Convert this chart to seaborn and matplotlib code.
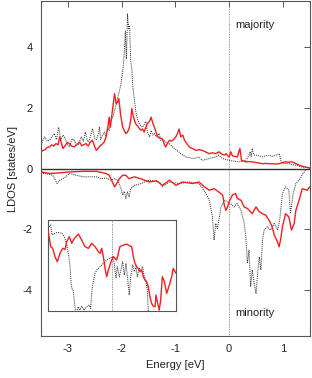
import numpy as np
import pandas as pd
import seaborn as sns
import matplotlib
matplotlib.use("Agg")
import matplotlib.pyplot as plt

# majority spin, dotted black curve
maj_black_E = [-3.50, -3.46, -3.43, -3.38, -3.34, -3.29, -3.25, -3.21, -3.17, -3.13,
               -3.09, -3.05, -3.01, -2.97, -2.92, -2.88, -2.84, -2.80, -2.75, -2.71,
               -2.67, -2.63, -2.60, -2.54, -2.50, -2.47, -2.43, -2.41, -2.39, -2.35,
               -2.32, -2.29, -2.26, -2.23, -2.20, -2.16, -2.13, -2.10, -2.07, -2.04,
               -2.01, -1.97, -1.95, -1.93, -1.91, -1.89, -1.87, -1.85, -1.83, -1.81,
               -1.79, -1.76, -1.73, -1.70, -1.67, -1.64, -1.61, -1.58, -1.55, -1.52,
               -1.48, -1.45, -1.42, -1.39, -1.36, -1.33, -1.30, -1.27, -1.22, -1.18,
               -1.11, -1.05, -0.99, -0.93, -0.87, -0.80, -0.74, -0.68, -0.62, -0.56,
               -0.50, -0.44, -0.37, -0.31, -0.25, -0.19, -0.12, -0.06, 0.00, 0.06,
               0.12, 0.19, 0.25, 0.31, 0.34, 0.37, 0.39, 0.41, 0.43, 0.46,
               0.50, 0.56, 0.62, 0.68, 0.74, 0.80, 0.87, 0.93, 0.96, 0.99,
               1.05, 1.11, 1.17, 1.24, 1.30, 1.36, 1.42, 1.48, 1.50]
maj_black = [0.71, 0.95, 1.04, 0.90, 0.93, 1.05, 1.15, 0.95, 1.36, 0.93,
             1.10, 1.00, 0.80, 0.71, 0.98, 0.93, 0.78, 0.80, 1.04, 0.90,
             1.20, 0.88, 0.93, 1.31, 1.00, 0.95, 1.15, 1.36, 0.96, 1.10,
             1.20, 1.05, 1.36, 1.25, 1.58, 1.70, 1.91, 2.10, 2.35, 2.55,
             2.79, 3.33, 3.80, 4.50, 3.60, 5.08, 4.60, 4.70, 3.50, 3.30,
             2.68, 2.24, 1.80, 1.60, 1.48, 1.40, 1.36, 1.45, 1.55, 1.20,
             1.04, 1.25, 1.10, 1.15, 1.05, 1.10, 1.15, 0.93, 0.95, 0.87,
             0.82, 0.71, 0.62, 0.54, 0.45, 0.38, 0.36, 0.33, 0.35, 0.38,
             0.27, 0.30, 0.33, 0.36, 0.38, 0.44, 0.33, 0.30, 0.27, 0.25,
             0.24, 0.22, 0.24, 0.27, 0.35, 0.44, 0.55, 0.40, 0.66, 0.45,
             0.44, 0.42, 0.38, 0.42, 0.44, 0.40, 0.44, 0.49, 0.27, 0.16,
             0.17, 0.16, 0.13, 0.11, 0.08, 0.05, 0.04, 0.03, 0.02]

# majority spin, red curve
maj_red_E = [-3.50, -3.46, -3.42, -3.38, -3.34, -3.30, -3.26, -3.22, -3.18, -3.15,
             -3.12, -3.09, -3.05, -3.01, -2.97, -2.93, -2.88, -2.83, -2.78, -2.74,
             -2.70, -2.66, -2.62, -2.58, -2.54, -2.50, -2.47, -2.43, -2.39, -2.35,
             -2.32, -2.29, -2.26, -2.23, -2.21, -2.17, -2.13, -2.10, -2.07, -2.05,
             -2.02, -1.98, -1.95, -1.92, -1.89, -1.86, -1.83, -1.81, -1.78, -1.76,
             -1.73, -1.70, -1.67, -1.64, -1.61, -1.58, -1.55, -1.52, -1.48, -1.45,
             -1.42, -1.39, -1.36, -1.33, -1.29, -1.24, -1.21, -1.18, -1.14, -1.11,
             -1.07, -1.02, -0.99, -0.96, -0.93, -0.90, -0.86, -0.83, -0.78, -0.74,
             -0.68, -0.62, -0.56, -0.50, -0.44, -0.37, -0.31, -0.25, -0.19, -0.14,
             -0.09, -0.06, 0.00, 0.03, 0.06, 0.10, 0.15, 0.20, 0.23, 0.27,
             0.31, 0.37, 0.43, 0.50, 0.56, 0.62, 0.68, 0.74, 0.80, 0.87,
             0.93, 0.99, 1.05, 1.11, 1.17, 1.22, 1.27, 1.32, 1.36, 1.42, 1.48, 1.50]
maj_red = [0.55, 0.60, 0.62, 0.70, 0.71, 0.78, 0.74, 0.82, 0.78, 1.04,
           0.85, 0.66, 0.75, 0.86, 0.82, 0.74, 0.71, 0.80, 0.87, 0.75,
           0.79, 0.82, 0.74, 0.88, 0.93, 0.72, 0.60, 0.68, 0.76, 0.82,
           0.88, 1.04, 1.30, 1.69, 1.36, 1.90, 2.46, 2.13, 2.20, 2.30,
           1.80, 1.36, 1.25, 1.15, 1.20, 1.31, 1.60, 1.97, 1.70, 1.58,
           1.45, 1.40, 1.32, 1.26, 1.30, 1.20, 1.35, 1.48, 1.55, 1.69,
           1.50, 1.36, 1.20, 1.04, 1.00, 0.98, 0.82, 0.71, 0.85, 0.93,
           0.90, 0.98, 1.05, 1.15, 1.30, 1.04, 1.10, 0.93, 0.80, 0.71,
           0.66, 0.60, 0.62, 0.60, 0.55, 0.49, 0.52, 0.49, 0.55, 0.48,
           0.44, 0.49, 0.38, 0.55, 0.42, 0.40, 0.38, 0.66, 0.27, 0.25,
           0.22, 0.23, 0.22, 0.20, 0.18, 0.16, 0.17, 0.16, 0.16, 0.15,
           0.16, 0.20, 0.22, 0.21, 0.22, 0.18, 0.14, 0.10, 0.08, 0.05, 0.03, 0.02]

# minority spin, dotted black curve
min_black_E = [-3.50, -3.40, -3.28, -3.23, -3.20, -3.15, -3.09, -3.00, -2.97, -2.84,
               -2.72, -2.60, -2.47, -2.38, -2.29, -2.20, -2.13, -2.07, -2.01, -1.98,
               -1.95, -1.92, -1.89, -1.86, -1.83, -1.76, -1.65, -1.55, -1.48, -1.30,
               -1.24, -1.11, -0.93, -0.74, -0.56, -0.43, -0.37, -0.31, -0.28, -0.25,
               -0.22, -0.19, -0.15, -0.09, -0.03, 0.03, 0.09, 0.15, 0.22, 0.28,
               0.31, 0.34, 0.37, 0.40, 0.43, 0.46, 0.50, 0.53, 0.56, 0.59,
               0.62, 0.65, 0.71, 0.77, 0.84, 0.90, 0.94, 0.99, 1.05, 1.11,
               1.14, 1.19, 1.24, 1.30, 1.36, 1.42, 1.50]
min_black = [-0.16, -0.16, -0.22, -0.38, -0.49, -0.38, -0.33, -0.22, -0.16, -0.22,
             -0.27, -0.27, -0.27, -0.33, -0.31, -0.38, -0.33, -0.38, -0.66, -0.87,
             -0.75, -0.98, -0.77, -0.93, -0.66, -0.55, -0.50, -0.42, -0.38, -0.44,
             -0.60, -0.44, -0.49, -0.44, -0.49, -0.82, -1.04, -1.58, -2.35, -1.80,
             -1.97, -1.69, -1.26, -1.04, -1.09, -1.15, -1.26, -1.15, -1.37, -1.80,
             -2.24, -3.11, -2.68, -3.88, -3.33, -3.70, -4.10, -3.44, -2.90, -3.33,
             -2.35, -2.02, -1.91, -2.02, -1.80, -2.02, -1.69, -0.82, -0.60, -0.71,
             -1.48, -0.82, -0.49, -0.38, -0.20, -0.05, 0.00]

# minority spin, red curve
min_red_E = [-3.50, -3.34, -3.15, -2.97, -2.72, -2.47, -2.29, -2.23, -2.17, -2.13,
             -2.09, -2.04, -1.98, -1.92, -1.86, -1.76, -1.62, -1.48, -1.35, -1.24,
             -1.11, -0.99, -0.87, -0.68, -0.56, -0.46, -0.37, -0.28, -0.19, -0.12,
             -0.09, -0.06, -0.03, 0.00, 0.06, 0.12, 0.15, 0.22, 0.28, 0.34,
             0.43, 0.50, 0.56, 0.62, 0.68, 0.74, 0.80, 0.84, 0.90, 0.93,
             0.96, 0.99, 1.05, 1.11, 1.16, 1.21, 1.24, 1.30, 1.36, 1.45, 1.50]
min_red = [-0.11, -0.16, -0.14, -0.11, -0.09, -0.09, -0.16, -0.22, -0.44, -0.60,
           -0.49, -0.33, -0.22, -0.22, -0.33, -0.27, -0.35, -0.44, -0.40, -0.55,
           -0.38, -0.55, -0.44, -0.49, -0.44, -0.60, -0.71, -0.66, -0.77, -0.87,
           -1.20, -1.37, -1.26, -1.09, -0.87, -0.82, -0.98, -1.04, -1.26, -1.31,
           -1.48, -1.26, -1.42, -1.48, -1.53, -1.69, -1.91, -2.19, -2.41, -2.57,
           -2.30, -1.91, -1.48, -1.59, -2.02, -1.80, -1.37, -1.04, -0.66, -0.71, -0.60]

# inset (relative units, Fermi level at 0.5)
inset_red_x = [0.000, 0.018, 0.034, 0.052, 0.070, 0.091, 0.112, 0.131, 0.144, 0.164,
               0.183, 0.204, 0.235, 0.261, 0.287, 0.313, 0.339, 0.366, 0.392, 0.405,
               0.418, 0.431, 0.444, 0.457, 0.470, 0.483, 0.496, 0.509, 0.522, 0.535,
               0.548, 0.561, 0.587, 0.614, 0.640, 0.653, 0.666, 0.679, 0.692, 0.705,
               0.718, 0.731, 0.744, 0.757, 0.770, 0.783, 0.796, 0.809, 0.822, 0.836,
               0.843, 0.854, 0.869, 0.880, 0.893, 0.909, 0.927, 0.948, 0.966, 0.979, 1.000]
inset_red = [0.871, 0.706, 0.688, 0.596, 0.540, 0.632, 0.688, 0.676, 0.761, 0.816,
             0.743, 0.798, 0.846, 0.779, 0.706, 0.688, 0.743, 0.706, 0.651, 0.632,
             0.688, 0.596, 0.467, 0.375, 0.449, 0.504, 0.559, 0.596, 0.577, 0.559,
             0.632, 0.706, 0.724, 0.735, 0.713, 0.706, 0.596, 0.522, 0.485, 0.467,
             0.430, 0.449, 0.375, 0.338, 0.320, 0.265, 0.154, 0.081, 0.051, 0.044,
             0.173, 0.099, 0.007, 0.118, 0.375, 0.320, 0.191, 0.283, 0.375, 0.467, 0.412]
inset_black_x = [0.008, 0.018, 0.029, 0.044, 0.065, 0.091, 0.112, 0.131, 0.144, 0.157,
                 0.170, 0.178, 0.185, 0.196, 0.204, 0.214, 0.235, 0.248, 0.261, 0.280,
                 0.300, 0.321, 0.332, 0.339, 0.352, 0.366, 0.379, 0.405, 0.431, 0.457,
                 0.483, 0.501, 0.514, 0.530, 0.540, 0.556, 0.569, 0.582, 0.595, 0.608,
                 0.621, 0.634, 0.645, 0.661, 0.674, 0.687, 0.697, 0.713, 0.726, 0.739,
                 0.749, 0.765, 0.775, 0.783, 0.789]
inset_black = [0.926, 0.945, 0.835, 0.846, 0.860, 0.860, 0.846, 0.798, 0.724, 0.632,
               0.485, 0.301, 0.246, 0.210, 0.099, -0.030, 0.044, 0.007, 0.051, 0.005,
               0.044, 0.063, 0.026, 0.191, 0.320, 0.412, 0.449, 0.485, 0.522, 0.559,
               0.577, 0.596, 0.540, 0.357, 0.485, 0.375, 0.449, 0.540, 0.393, 0.522,
               0.357, 0.173, 0.375, 0.504, 0.430, 0.485, 0.375, 0.467, 0.449, 0.485,
               0.393, 0.320, 0.228, 0.007, -0.070]

x_ticks = [-3, -2, -1, 0, 1]
y_ticks = [-4, -2, 0, 2, 4]

sns.set_theme(style="white")
plt.rcParams['font.family'] = ['Liberation Sans', 'DejaVu Sans']
plt.rcParams['axes.unicode_minus'] = False

RED = "#f02020"
DOT = "#3a3a3a"
FRAME = "#555555"

fig = plt.figure(figsize=(3.12, 3.78), dpi=100)
ax = fig.add_axes([0.131, 0.111, 0.862, 0.886])

ax.axvline(0, color="#777777", lw=0.6, ls=(0, (1, 1)), zorder=1)
ax.axhline(0, color="#333333", lw=1.0, zorder=1)

dot_kw = dict(color=DOT, lw=0.75, ls=(0, (1, 1)), estimator=None, sort=False, ax=ax)
red_kw = dict(color=RED, lw=1.0, estimator=None, sort=False, ax=ax)

sns.lineplot(x=maj_black_E, y=maj_black, zorder=2, **dot_kw)
sns.lineplot(x=min_black_E, y=min_black, zorder=2, **dot_kw)
sns.lineplot(x=maj_red_E, y=maj_red, zorder=3, **red_kw)
sns.lineplot(x=min_red_E, y=min_red, zorder=3, **red_kw)

ax.set_xlim(-3.5, 1.5)
ax.set_ylim(-5.5, 5.5)
ax.set_xticks(x_ticks)
ax.set_yticks(y_ticks)
ax.set_xticklabels([str(t) for t in x_ticks])
ax.set_yticklabels([str(t) for t in y_ticks])
ax.tick_params(direction="in", length=4, width=0.7, color=FRAME,
               top=True, right=True, labelsize=8, labelcolor="#222222", pad=6)
for s in ax.spines.values():
    s.set_color(FRAME)
    s.set_linewidth(0.8)
ax.set_xlabel("Energy [eV]", fontsize=8, color="#222222", labelpad=4)
ax.set_ylabel("LDOS [states/eV]", fontsize=8, color="#222222", labelpad=3)

ax.text(0.11, 4.7, "majority", fontsize=8, color="#222222", va="center", ha="left")
ax.text(0.11, -4.73, "minority", fontsize=8, color="#222222", va="center", ha="left")

# inset
ins = fig.add_axes([0.155, 0.178, 0.409, 0.240])
ins.axvline(0.5, color="#777777", lw=0.6, ls=(0, (1, 1)), zorder=1)
sns.lineplot(x=inset_black_x, y=inset_black, color=DOT, lw=0.75, ls=(0, (1, 1)),
             estimator=None, sort=False, ax=ins, zorder=2)
sns.lineplot(x=inset_red_x, y=inset_red, color=RED, lw=1.0,
             estimator=None, sort=False, ax=ins, zorder=3)
ins.set_xlim(0, 1)
ins.set_ylim(0, 1)
ins.set_xticks([])
ins.set_yticks([])
ins.set_xlabel("")
ins.set_ylabel("")
for s in ins.spines.values():
    s.set_color(FRAME)
    s.set_linewidth(0.8)

fig.savefig("out.png", dpi=100)
